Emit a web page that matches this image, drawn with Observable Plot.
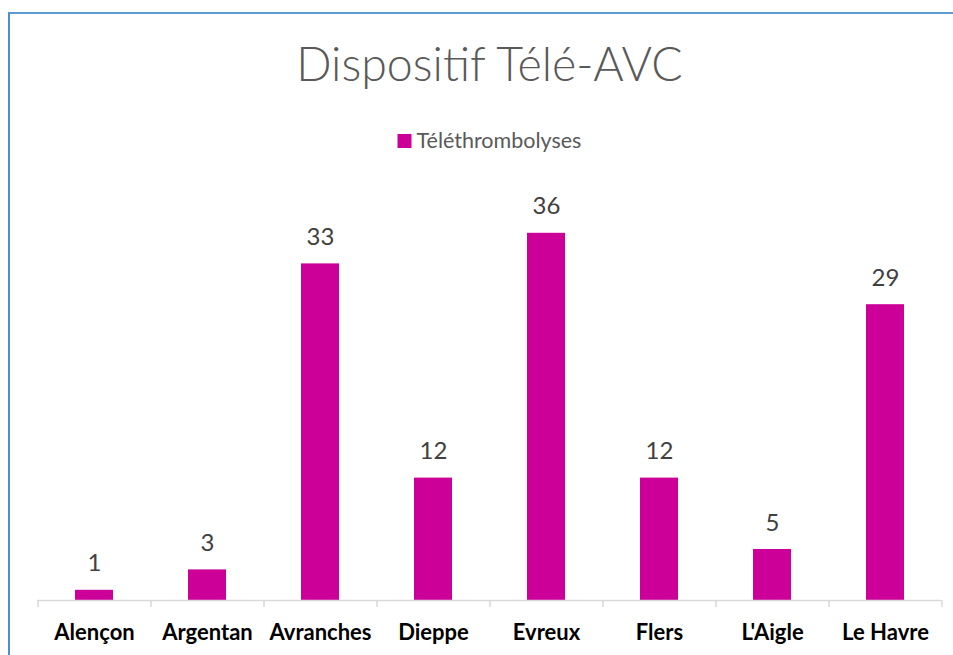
<!DOCTYPE html>
<html>
<head>
<meta charset="utf-8">
<script src="https://cdn.jsdelivr.net/npm/d3@7"></script>
<script src="https://cdn.jsdelivr.net/npm/@observablehq/plot@0.6"></script>
<style>
  html, body { margin: 0; padding: 0; background: #fff; }
  #wrap { position: relative; width: 953px; height: 655px; overflow: hidden; }
  #frame { position: absolute; left: 8px; top: 12px; right: -4px; bottom: -4px;
           border-top: 2px solid #5b9bd5; border-left: 2px solid #4a8fd0; }
  #chart { position: absolute; left: 0; top: 0; }
</style>
</head>
<body>
<div id="wrap">
  <div id="frame"></div>
  <div id="chart"></div>
</div>
<script>
const title = "Dispositif Télé-AVC";
const seriesName = "Téléthrombolyses";
const categories = ["Alençon", "Argentan", "Avranches", "Dieppe", "Evreux", "Flers", "L'Aigle", "Le Havre"];
const values = [1, 3, 33, 12, 36, 12, 5, 29];
const barColor = "#cc0099";

const data = categories.map((c, i) => ({category: c, value: values[i]}));

const W = 953, H = 655;
const mL = 37, mR = 12, mT = 192, mB = 55;
const step = (W - mL - mR) / categories.length;
const cx = (mL + (W - mR)) / 2;

const chart = Plot.plot({
  width: W,
  height: H,
  marginLeft: mL,
  marginRight: mR,
  marginTop: mT,
  marginBottom: mB,
  style: {background: "transparent", overflow: "visible"},
  x: {domain: categories, paddingInner: 2/3, paddingOuter: 1/3, axis: null},
  y: {domain: [0, 40], axis: null},
  marks: [
    Plot.barY(data, {x: "category", y: "value", fill: barColor}),
    Plot.ruleY([0], {stroke: "#d9d9d9", strokeWidth: 1.5}),
    Plot.ruleX(categories, {x: d => d, y1: 0, y2: 0, insetBottom: -7, dx: -step / 2, stroke: "#d9d9d9", strokeWidth: 1.5}),
    Plot.ruleX(categories.slice(-1), {x: d => d, y1: 0, y2: 0, insetBottom: -7, dx: step / 2, stroke: "#d9d9d9", strokeWidth: 1.5}),
    Plot.text(data, {x: "category", y: "value", text: d => String(d.value), lineAnchor: "bottom", dy: -19,
      fontFamily: "Lato", fontSize: 24, fill: "#404040"}),
    Plot.text(categories, {x: d => d, y: () => 0, text: d => d, lineAnchor: "bottom", dy: 39,
      fontFamily: "Lato", fontWeight: "bold", fontSize: 22, fill: "#000"}),
    Plot.text([title], {frameAnchor: "top", text: d => d, lineAnchor: "bottom", dy: 80 - mT,
      fontFamily: "Lato", fontWeight: 300, fontSize: 46.5, fill: "#595959"}),
    Plot.dot([seriesName], {frameAnchor: "top", symbol: "square", r: 7.9, fill: barColor, stroke: null,
      dx: 404 - cx, dy: 140.5 - mT}),
    Plot.text([seriesName], {frameAnchor: "top", text: d => d, textAnchor: "start", lineAnchor: "bottom",
      dx: 416 - cx, dy: 147.5 - mT, fontFamily: "Lato", fontSize: 21.5, fill: "#595959"})
  ]
});
document.getElementById("chart").appendChild(chart);
</script>
</body>
</html>
